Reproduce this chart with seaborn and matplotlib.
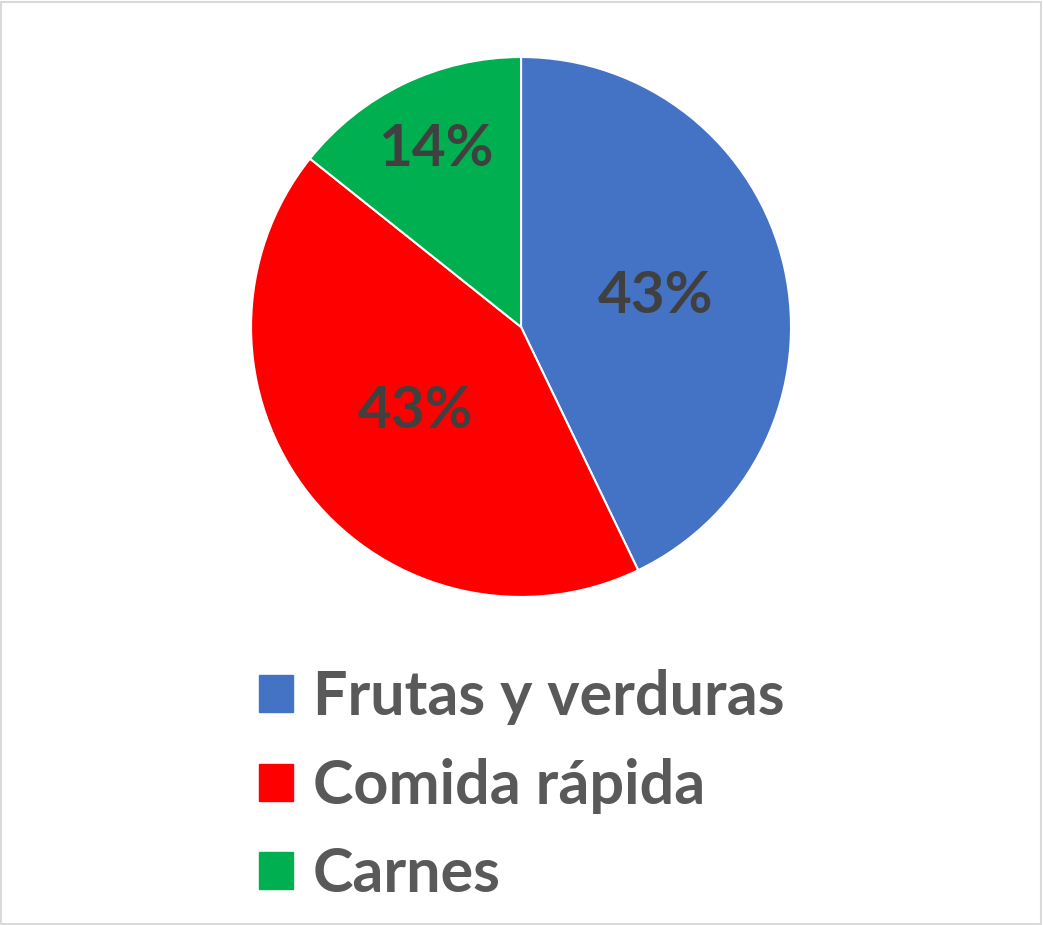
import matplotlib
matplotlib.use("Agg")
import numpy as np
import matplotlib.pyplot as plt
import seaborn as sns
from matplotlib.patches import Patch, Rectangle

# Data
categories = ["Frutas y verduras", "Comida rápida", "Carnes"]
values = [3, 3, 1]
colors = ["#4472C4", "#FF0000", "#00B050"]
label_dist = [0.51, 0.5, 0.73]

sns.set_theme(style="white")
plt.rcParams['font.family'] = ['Lato', 'DejaVu Sans']

fig = plt.figure(figsize=(10.43, 9.25), dpi=100)
ax = fig.add_axes([0.2407, 0.3546, 0.5177, 0.5838])

wedges, texts, autotexts = ax.pie(
    values, colors=colors, startangle=90, counterclock=False,
    autopct=lambda p: f"{p:.0f}%", radius=1.0,
    wedgeprops=dict(edgecolor="white", linewidth=1.5),
    textprops=dict(color="#404040", fontsize=42, fontweight="bold"))

# move percentage labels to their own distance from centre
for w, t, d in zip(wedges, autotexts, label_dist):
    ang = np.deg2rad((w.theta1 + w.theta2) / 2)
    t.set_position((d * np.cos(ang), d * np.sin(ang)))

ax.set_xlim(-1, 1)
ax.set_ylim(-1, 1)
ax.set_aspect("equal")
ax.axis("off")

handles = [Patch(facecolor=c, edgecolor=c) for c in colors]
leg = fig.legend(handles, categories, loc="upper left",
                 bbox_to_anchor=(0.225, 0.3027), frameon=False,
                 prop=dict(size=44, weight="bold"),
                 handlelength=0.556, handleheight=0.556,
                 handletextpad=0.32, labelspacing=0.53, borderaxespad=0)
for t in leg.get_texts():
    t.set_color("#595959")

fig.patches.append(Rectangle((0.001, 0.001), 0.997, 0.997, transform=fig.transFigure,
                             fill=False, edgecolor="#D9D9D9", linewidth=1.5))

fig.savefig("out.png", dpi=100)
